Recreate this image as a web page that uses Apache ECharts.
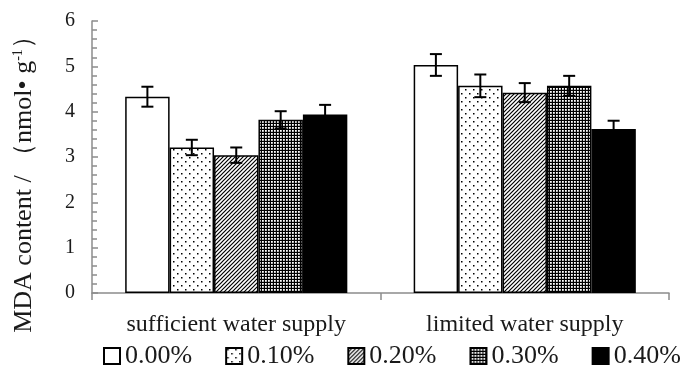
<!DOCTYPE html>
<html>
<head>
<meta charset="utf-8">
<script src="https://cdn.jsdelivr.net/npm/echarts@6/dist/echarts.min.js"></script>
<style>html,body{margin:0;padding:0;background:#fff;}#c{width:687px;height:372px;}</style>
</head>
<body>
<div id="c"></div>
<script>
const categories = ['sufficient water supply', 'limited water supply'];
const seriesNames = ['0.00%', '0.10%', '0.20%', '0.30%', '0.40%'];
const v000 = [4.33, 5.03];
const v010 = [3.21, 4.57];
const v020 = [3.04, 4.42];
const v030 = [3.82, 4.57];
const v040 = [3.94, 3.62];
const e000 = [0.22, 0.24];
const e010 = [0.17, 0.25];
const e020 = [0.17, 0.21];
const e030 = [0.19, 0.22];
const e040 = [0.21, 0.18];
const yTicks = [0, 1, 2, 3, 4, 5, 6];

const values = [v000, v010, v020, v030, v040];
const errors = [e000, e010, e020, e030, e040];

function tile(w, h, draw) {
  const c = document.createElement('canvas');
  c.width = w; c.height = h;
  const g = c.getContext('2d');
  draw(g, w, h);
  return c;
}
const patWhite = '#ffffff';
const patDots = tile(8, 8, (g, w, h) => {
  g.fillStyle = '#fff'; g.fillRect(0, 0, w, h);
  g.fillStyle = '#000';
  g.fillRect(1, 1, 1.5, 1.5);
  g.fillRect(5, 5, 1.5, 1.5);
});
const patDiag = tile(4, 4, (g, w, h) => {
  g.fillStyle = '#fff'; g.fillRect(0, 0, w, h);
  g.strokeStyle = '#000'; g.lineWidth = 1.2;
  g.beginPath();
  g.moveTo(-1, 5); g.lineTo(5, -1);
  g.moveTo(-1, 1); g.lineTo(1, -1);
  g.moveTo(3, 5); g.lineTo(5, 3);
  g.stroke();
});
const patGrid = tile(3, 3, (g, w, h) => {
  g.fillStyle = '#000'; g.fillRect(0, 0, w, h);
  g.fillStyle = '#fff';
  g.fillRect(1, 1, 1.8, 1.8);
});
const fills = [patWhite, {image: patDots, repeat: 'repeat'}, {image: patDiag, repeat: 'repeat'}, {image: patGrid, repeat: 'repeat'}, '#000000'];

const GAP = 0.23;
const barSeries = seriesNames.map((name, i) => ({
  name: name,
  type: 'bar',
  data: values[i],
  barGap: '0%',
  barCategoryGap: (GAP * 100) + '%',
  itemStyle: {color: fills[i], borderColor: '#000', borderWidth: 1.5},
  emphasis: {disabled: true},
  z: 2
}));

const errData = [];
for (let s = 0; s < values.length; s++) {
  for (let c = 0; c < categories.length; c++) {
    errData.push([c, values[s][c], errors[s][c], s]);
  }
}

const errSeries = {
  type: 'custom',
  name: 'err',
  data: errData,
  z: 10,
  silent: true,
  encode: {x: 0, y: 1},
  renderItem: function (params, api) {
    const c = api.value(0), v = api.value(1), e = api.value(2), s = api.value(3);
    const catW = api.size([1, 0])[0];
    const barW = catW * (1 - GAP) / seriesNames.length;
    const x = api.coord([c, v])[0] + (s - (seriesNames.length - 1) / 2) * barW;
    const yT = api.coord([c, v + e])[1];
    const yB = api.coord([c, v - e])[1];
    const cap = 6;
    const st = {stroke: '#000', lineWidth: 2};
    return {
      type: 'group',
      children: [
        {type: 'line', shape: {x1: x, y1: yT, x2: x, y2: yB}, style: st},
        {type: 'line', shape: {x1: x - cap, y1: yT, x2: x + cap, y2: yT}, style: st},
        {type: 'line', shape: {x1: x - cap, y1: yB, x2: x + cap, y2: yB}, style: st}
      ]
    };
  }
};

const chart = echarts.init(document.getElementById('c'), null, {renderer: 'canvas'});
chart.setOption({
  animation: false,
  backgroundColor: '#ffffff',
  textStyle: {fontFamily: 'Liberation Serif'},
  grid: {left: 92, right: 18, top: 21, bottom: 79, containLabel: false},
  legend: {
    data: seriesNames,
    left: 103,
    top: 343,
    width: 600,
    padding: 0,
    icon: 'rect',
    itemWidth: 16,
    itemHeight: 16,
    itemGap: 33,
    textStyle: {fontFamily: 'Liberation Serif', fontSize: 26, color: '#1a1a1a'},
    selectedMode: false
  },
  xAxis: {
    type: 'category',
    data: categories,
    axisLine: {lineStyle: {color: '#8c8c8c', width: 1.5}},
    axisTick: {show: true, inside: false, length: 7, lineStyle: {color: '#8c8c8c', width: 1.5}},
    axisLabel: {fontFamily: 'Liberation Serif', fontSize: 24, color: '#1a1a1a', margin: 20}
  },
  yAxis: {
    type: 'value',
    min: yTicks[0],
    max: yTicks[yTicks.length - 1],
    interval: 1,
    name: 'MDA content / （nmol• g{sup|-1}）',
    nameLocation: 'middle',
    nameRotate: 90,
    nameGap: 55,
    nameTextStyle: {
      fontFamily: 'Liberation Serif', fontSize: 26, color: '#1a1a1a',
      padding: [0, 42, 0, 0],
      rich: {sup: {fontFamily: 'Liberation Serif', fontSize: 14, color: '#1a1a1a', verticalAlign: 'top', padding: [0, 0, 12, 0]}}
    },
    axisLine: {show: true, lineStyle: {color: '#8c8c8c', width: 1.5}},
    axisTick: {show: true, inside: true, length: 6, lineStyle: {color: '#8c8c8c', width: 1.5}},
    minorTick: {show: true, splitNumber: 5, length: 5, lineStyle: {color: '#8c8c8c', width: 1.5}},
    splitLine: {show: false},
    axisLabel: {fontFamily: 'Liberation Serif', fontSize: 20, color: '#1a1a1a', margin: 17}
  },
  series: barSeries.concat([errSeries])
});
</script>
</body>
</html>
